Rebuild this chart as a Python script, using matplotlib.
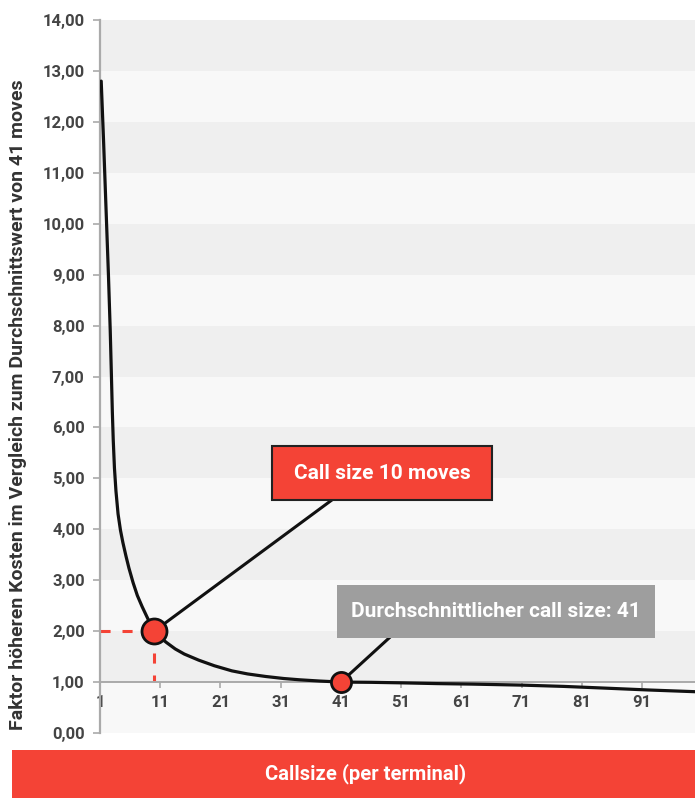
import matplotlib
matplotlib.use('Agg')
import matplotlib.pyplot as plt
from matplotlib.patches import Rectangle

plt.rcParams['font.family'] = ['Roboto', 'DejaVu Sans']
plt.rcParams['font.weight'] = 'bold'

# values
call_size = [1.2, 1.6, 2.0, 2.4, 2.7, 2.9, 3.05, 3.2, 3.4, 3.65, 4.0, 4.4, 4.8, 5.3,
             5.8, 6.5, 7.2, 8.0, 9.0, 10, 11, 12, 13.5, 15, 17.4, 20, 22.9, 25.5, 28.5,
             31.5, 34.1, 37.5, 41, 46, 51, 57, 62.8, 71.1, 78, 85.1, 92, 100]
factor = [12.8, 11.6, 10.3, 9.0, 7.9, 7.0, 6.3, 5.75, 5.2, 4.75, 4.3, 3.98, 3.74, 3.48,
          3.24, 2.95, 2.7, 2.48, 2.23, 2.0, 1.88, 1.78, 1.65, 1.55, 1.43, 1.32, 1.22, 1.16,
          1.11, 1.07, 1.045, 1.02, 1.0, 0.995, 0.985, 0.97, 0.96, 0.94, 0.915, 0.88, 0.845, 0.81]
x_ticks = [1, 11, 21, 31, 41, 51, 61, 71, 81, 91]
y_ticks = list(range(15))
point_10 = (10, 2.0)
point_41 = (41, 1.0)

red = '#f44336'
grey_box = '#9e9e9e'
axis_grey = '#aaaaaa'

fig = plt.figure(figsize=(6.95, 7.98), dpi=100)
ax = fig.add_axes([100/695, 65/798, 595/695, 713/798])
ax.set_xlim(1, 99.8)
ax.set_ylim(0, 14)

# striped background
for i in range(14):
    ax.axhspan(i, i + 1, color='#efefef' if i % 2 else '#f8f8f8', lw=0, zorder=0)

for s in ['top', 'right']:
    ax.spines[s].set_visible(False)
ax.spines['left'].set_color(axis_grey)
ax.spines['left'].set_linewidth(1.6)
ax.spines['bottom'].set_position(('data', 1))
ax.spines['bottom'].set_color(axis_grey)
ax.spines['bottom'].set_linewidth(1.4)

ax.set_yticks(y_ticks)
ax.set_yticklabels([f'{v:.2f}'.replace('.', ',') for v in y_ticks])
ax.set_xticks(x_ticks)
ax.set_xticklabels([str(v) for v in x_ticks])
ax.tick_params(axis='y', length=5, width=1.2, color=axis_grey, pad=6,
               labelsize=12, labelcolor='#444444')
ax.tick_params(axis='x', length=4, width=1.2, color=axis_grey, pad=5,
               labelsize=12, labelcolor='#444444')

# curve
ax.plot(call_size, factor, color='#111111', lw=2.3, zorder=3,
        solid_capstyle='round', solid_joinstyle='round')

# dashed guides to the 10-moves point
ax.plot([1, point_10[0]], [point_10[1], point_10[1]], color=red, lw=2.2,
        ls=(0, (3.3, 3.9)), zorder=2)
ax.plot([point_10[0], point_10[0]], [point_10[1], 1], color=red, lw=2.2,
        ls=(0, (3.3, 3.9)), zorder=2)

# callout boxes and connectors
ax.plot([point_10[0], 39.5], [point_10[1], 4.575], color='#111111', lw=2.2, zorder=4)
ax.add_patch(Rectangle((29.6, 4.575), 36.5, 1.06, fc=red, ec='#222222', lw=1.5, zorder=5))
ax.text(47.85, 5.1, 'Call size 10 moves', color='white', fontsize=15,
        ha='center', va='center', zorder=6)

ax.plot([point_41[0], 49.0], [point_41[1], 1.865], color='#111111', lw=2.2, zorder=4)
ax.add_patch(Rectangle((40.4, 1.865), 52.8, 1.04, fc=grey_box, ec='none', zorder=5))
ax.text(66.8, 2.385, 'Durchschnittlicher call size: 41', color='white', fontsize=15,
        ha='center', va='center', zorder=6)

ax.plot(*point_10, 'o', ms=18, mfc=red, mec='#111111', mew=2, zorder=7)
ax.plot(*point_41, 'o', ms=14.5, mfc=red, mec='#111111', mew=2, zorder=7)

# y label and bottom band
fig.text(18/695, 1 - 405/798, 'Faktor höheren Kosten im Vergleich zum Durchschnittswert von 41 moves',
         rotation=90, ha='center', va='center', fontsize=14, color='#333333')
fig.patches.append(Rectangle((12/695, 0), 683/695, 48/798, transform=fig.transFigure,
                             fc=red, ec='none'))
fig.text(366/695, 24/798, 'Callsize (per terminal)', color='white', fontsize=14.5,
         ha='center', va='center')

fig.savefig('out.png', dpi=100)
